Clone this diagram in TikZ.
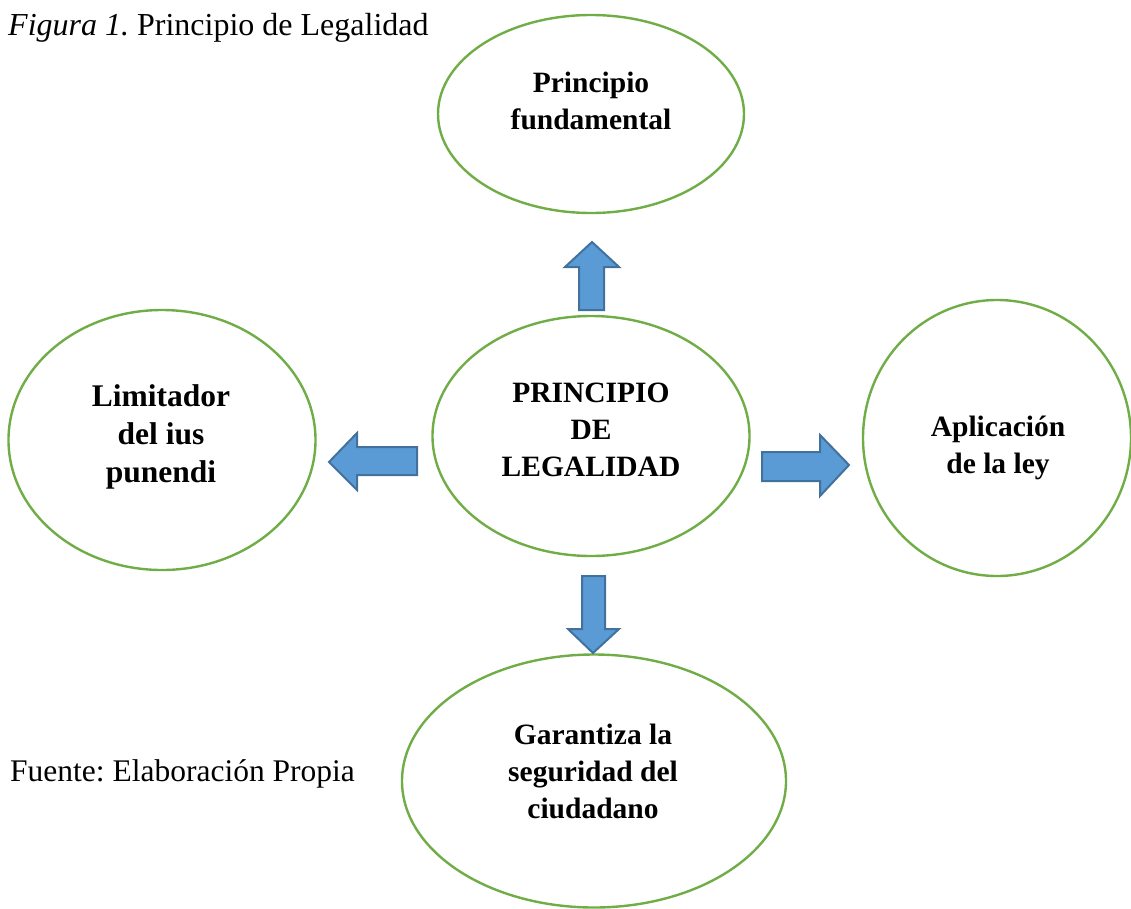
\documentclass[tikz,border=0pt]{standalone}
\usepackage{fontspec}
\setmainfont{Liberation Serif}
\frenchspacing
\usetikzlibrary{shapes.geometric}
\definecolor{elgreen}{HTML}{70AD47}
\definecolor{arfill}{HTML}{5B9BD5}
\definecolor{arline}{HTML}{41719C}
\tikzset{
  oval/.style={draw=elgreen, line width=2.4pt, ellipse, inner sep=0pt, fill=white},
  lbl/.style={font=\fontsize{29.5}{37}\selectfont\bfseries, align=center, inner sep=0pt},
  biglbl/.style={lbl, font=\fontsize{31.5}{38}\selectfont\bfseries},
  plain/.style={font=\fontsize{31.5}{37}\selectfont, anchor=base west, inner sep=0pt},
  blockarrow/.style={fill=arfill, draw=arline, line width=2pt, line join=miter}
}
\begin{document}
\begin{tikzpicture}[x=1pt,y=-1pt]
\useasboundingbox (0,0) rectangle (1131,908);
% ellipses
\node[oval, minimum width=306pt, minimum height=198pt] (top) at (591,114) {};
\node[oval, minimum width=317pt, minimum height=240pt] (mid) at (591,436) {};
\node[oval, minimum width=307pt, minimum height=260pt] (left) at (162,440) {};
\node[oval, minimum width=268pt, minimum height=276pt] (right) at (997,438) {};
\node[oval, minimum width=384pt, minimum height=253pt] (bot) at (594,781) {};
% texts
\node[lbl] (toptext) at (591,101) {Principio\\fundamental};
\node[lbl] (midtext) at (591,430) {PRINCIPIO\\DE\\LEGALIDAD};
\node[biglbl] (lefttext) at (161,437) {Limitador\\del ius\\punendi};
\node[lbl] (righttext) at (998,448) {Aplicación\\de la ley};
\node[lbl] (bottext) at (593,771) {Garantiza la\\seguridad del\\ciudadano};
\node[plain, font=\fontsize{32}{37}\selectfont] (title) at (8,35) {\textit{Figura 1.} Principio de Legalidad};
\node[plain] (source) at (10,781) {Fuente: Elaboración Propia};
% block arrows
\draw[blockarrow] (579,310) -- (579,267) -- (565,267) -- (592,242) -- (619,267) -- (604,267) -- (604,310) -- cycle;
\draw[blockarrow] (582,576) -- (582,629) -- (568,629) -- (593,653) -- (619,629) -- (605,629) -- (605,576) -- cycle;
\draw[blockarrow] (417,447) -- (357,447) -- (357,433) -- (329,462) -- (357,490) -- (357,475) -- (417,475) -- cycle;
\draw[blockarrow] (762,452) -- (820,452) -- (820,435) -- (849,465) -- (820,496) -- (820,481) -- (762,481) -- cycle;
\end{tikzpicture}
\end{document}
